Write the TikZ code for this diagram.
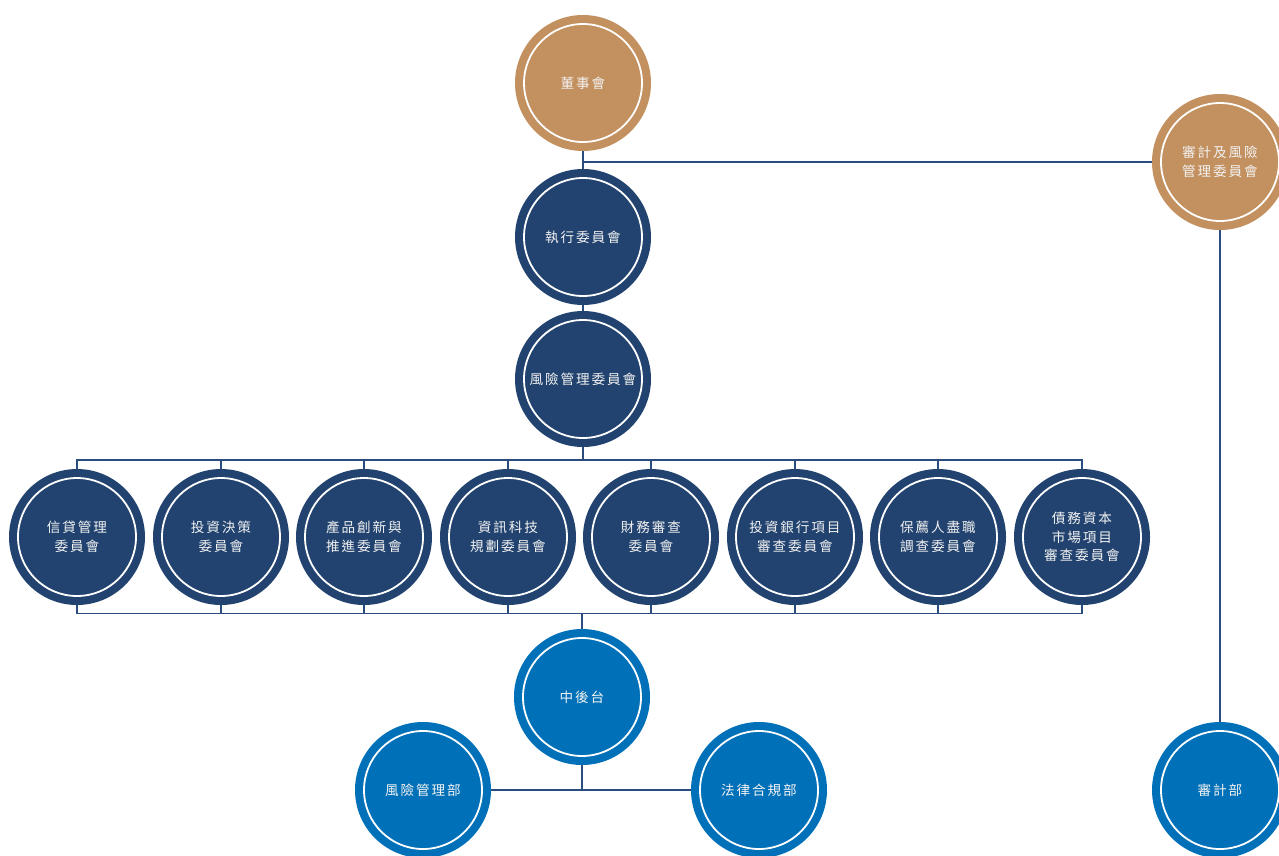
\documentclass[tikz,border=0pt]{standalone}
\usepackage{fontspec}
\newfontfamily\cjk[LetterSpace=14]{Noto Sans CJK TC}
\definecolor{tan}{HTML}{C3905F}
\definecolor{navy}{HTML}{22436F}
\definecolor{bright}{HTML}{0070B8}
\definecolor{linec}{HTML}{2B4C7E}
\tikzset{
  orgc/.style={circle, minimum size=136pt, inner sep=0pt, fill=#1, text=white!95!black,
    align=center, font=\cjk\fontsize{13.6}{19.5}\selectfont,
    path picture={\draw[white, line width=1.8pt] (path picture bounding box.center) circle (59pt);}},
  conn/.style={draw=linec, line width=1.4pt}
}
\begin{document}
\begin{tikzpicture}[x=1pt,y=1pt]
\useasboundingbox (0,0) rectangle (1279,-855);
% top chain
\node[orgc=tan] (board) at (583,-83) {董事會};
\node[orgc=navy] (exec) at (583,-237) {執行委員會};
\node[orgc=navy] (risk) at (583,-379) {風險管理委員會};
\node[orgc=tan] (audit) at (1220,-162) {審計及風險\\管理委員會};
% committee row
\node[orgc=navy] (c1) at (77,-537) {信貸管理\\委員會};
\node[orgc=navy] (c2) at (221,-537) {投資決策\\委員會};
\node[orgc=navy] (c3) at (364,-537) {產品創新與\\推進委員會};
\node[orgc=navy] (c4) at (508,-537) {資訊科技\\規劃委員會};
\node[orgc=navy] (c5) at (651,-537) {財務審查\\委員會};
\node[orgc=navy] (c6) at (795,-537) {投資銀行項目\\審查委員會};
\node[orgc=navy] (c7) at (938,-537) {保薦人盡職\\調查委員會};
\node[orgc=navy, font=\cjk\fontsize{13.6}{18.5}\selectfont] (c8) at (1082,-537) {債務資本\\市場項目\\審查委員會};
% lower
\node[orgc=bright] (mid) at (582,-697) {中後台};
\node[orgc=bright] (rmd) at (423,-790) {風險管理部};
\node[orgc=bright] (lcd) at (759,-790) {法律合規部};
\node[orgc=bright] (aud) at (1220,-790) {審計部};
% connectors
\draw[conn] (board) -- (exec);
\draw[conn] (audit.west) -- (audit.west -| board.south);
\draw[conn] (exec) -- (risk);
\draw[conn] (risk.south) -- ++(0,-13);
\draw[conn] (c1.north) -- ++(0,9) -| (c8.north);
\foreach \i in {2,...,7} {\draw[conn] (c\i.north) -- ++(0,9);}
\draw[conn] (c1.south) -- ++(0,-8) -| (c8.south);
\foreach \i in {2,...,7} {\draw[conn] (c\i.south) -- ++(0,-8);}
\draw[conn] (mid.north) -- ++(0,15);
\draw[conn] (rmd.east) -- (lcd.west);
\draw[conn] (mid.south) -- (mid.south |- rmd.east);
\draw[conn] (audit) -- (aud);
\end{tikzpicture}
\end{document}
